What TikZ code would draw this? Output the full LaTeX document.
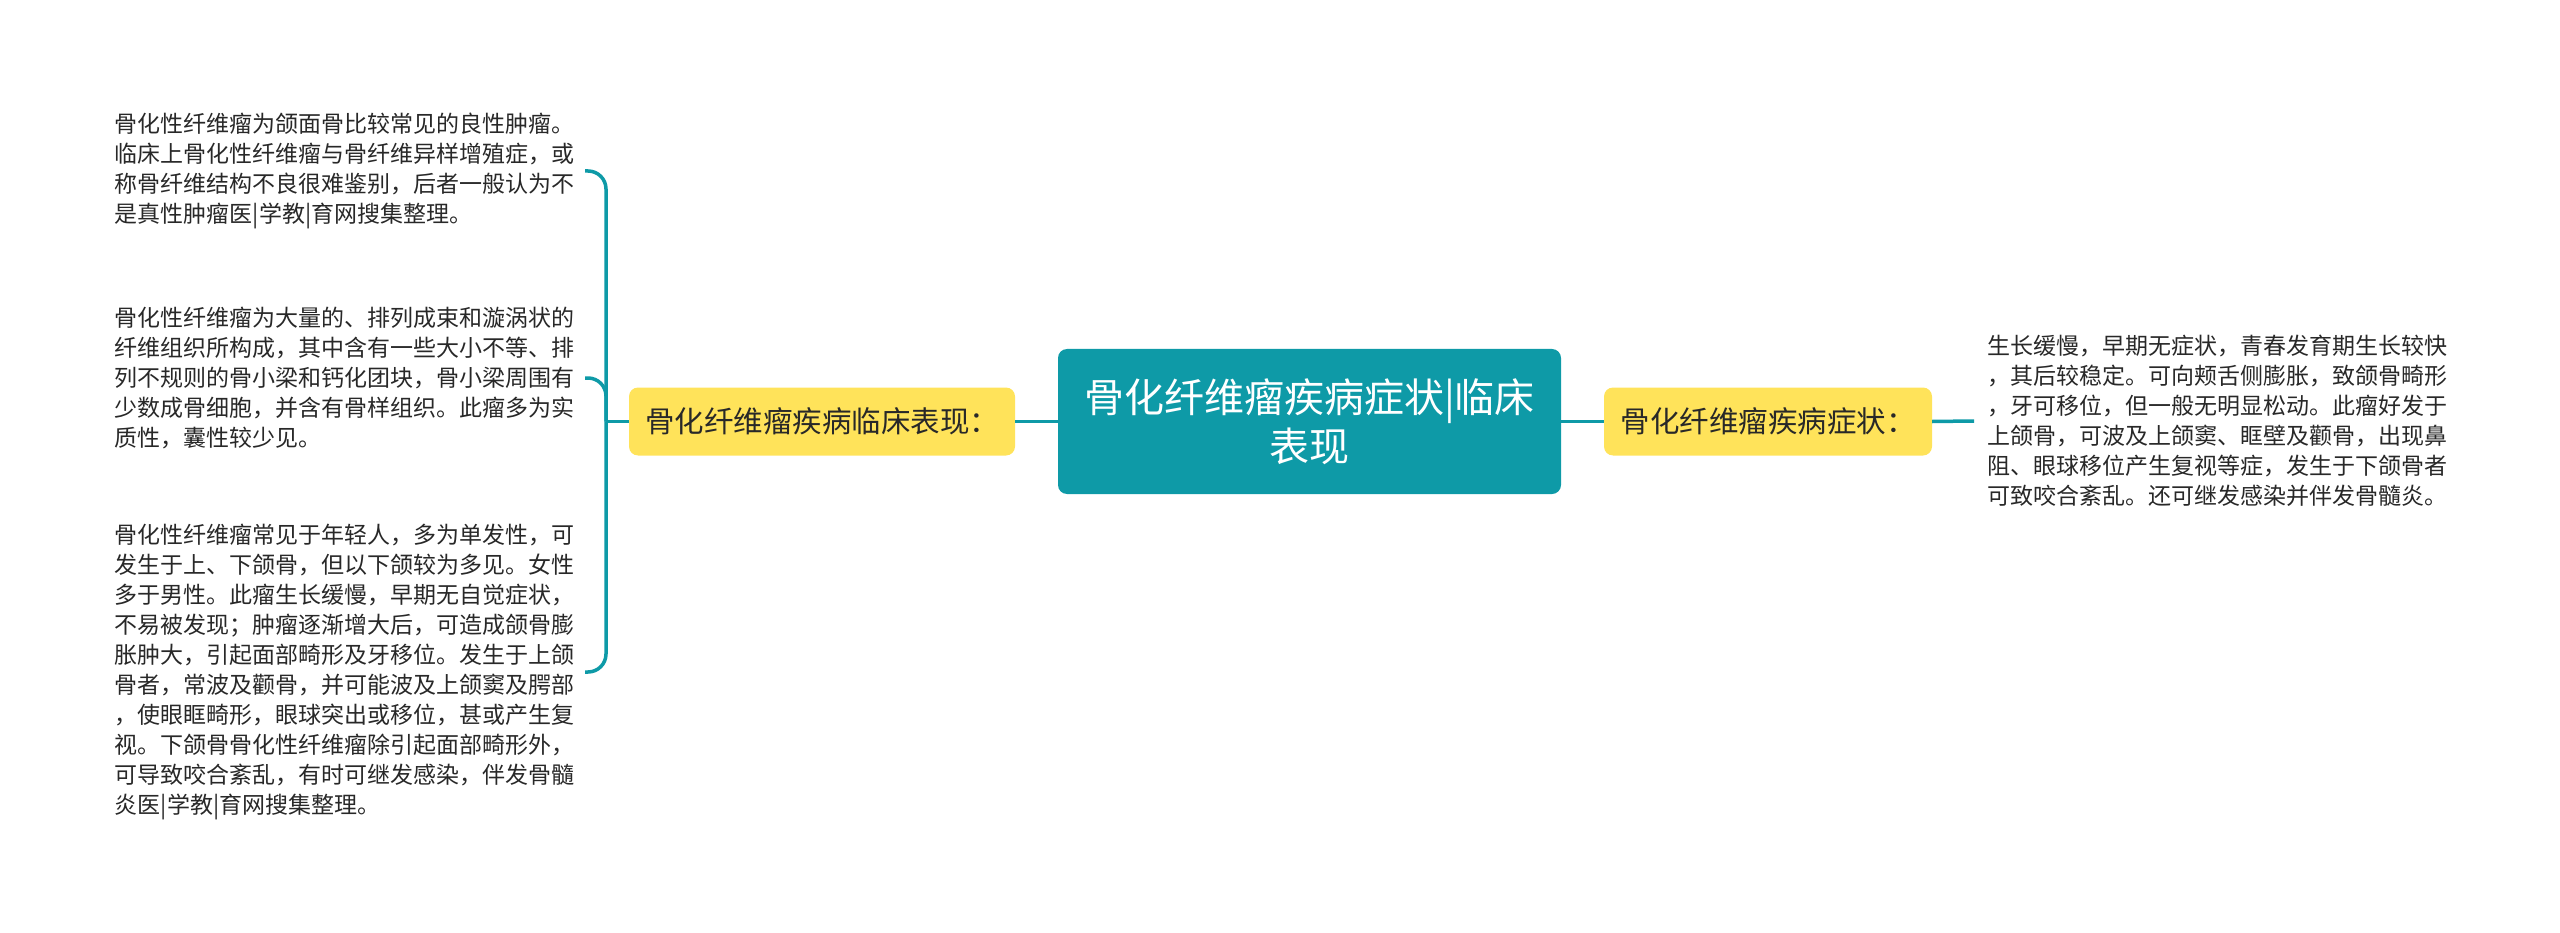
\documentclass[tikz,border=0pt]{standalone}
\usepackage{fontspec}
\newfontfamily\cjk{Noto Sans CJK SC}
\definecolor{teal1}{RGB}{14,154,167}
\definecolor{yel}{RGB}{255,227,90}
\definecolor{txt}{RGB}{40,40,40}
\begin{document}
\begin{tikzpicture}[x=1pt,y=-1pt,
  conn/.style={draw=teal1, line width=3.5pt},
  rootbox/.style={fill=teal1, rounded corners=9pt, minimum width=503pt, minimum height=145pt, text=white, font=\cjk\fontsize{40}{49}\selectfont, align=center, inner sep=0pt},
  subbox/.style={fill=yel, rounded corners=9pt, minimum height=68pt, text=txt, font=\cjk\fontsize{29.5}{34}\selectfont, inner sep=0pt},
  leaf/.style={text=txt, font=\cjk\fontsize{23}{30}\selectfont, align=left, text width=470pt, inner sep=0pt}]
\useasboundingbox (0,0) rectangle (2560,933);
\node[rootbox] (c) at (1309.5,421.5) {骨化纤维瘤疾病症状|临床\\表现};
\node[subbox, minimum width=386pt] (l) at (822,421.5) {骨化纤维瘤疾病临床表现：};
\node[subbox, minimum width=328pt] (r) at (1768,421.5) {骨化纤维瘤疾病症状：};
\node[leaf, anchor=west, inner xsep=13pt] (rt) at (1974,421) {生长缓慢，早期无症状，青春发育期生长较快\\，其后较稳定。可向颊舌侧膨胀，致颌骨畸形\\，牙可移位，但一般无明显松动。此瘤好发于\\上颌骨，可波及上颌窦、眶壁及颧骨，出现鼻\\阻、眼球移位产生复视等症，发生于下颌骨者\\可致咬合紊乱。还可继发感染并伴发骨髓炎。};
\node[leaf, anchor=east] (t1) at (585,171) {骨化性纤维瘤为颌面骨比较常见的良性肿瘤。\\临床上骨化性纤维瘤与骨纤维异样增殖症，或\\称骨纤维结构不良很难鉴别，后者一般认为不\\是真性肿瘤医|学教|育网搜集整理。};
\node[leaf, anchor=east] (t2) at (585,378) {骨化性纤维瘤为大量的、排列成束和漩涡状的\\纤维组织所构成，其中含有一些大小不等、排\\列不规则的骨小梁和钙化团块，骨小梁周围有\\少数成骨细胞，并含有骨样组织。此瘤多为实\\质性，囊性较少见。};
\node[leaf, anchor=east] (t3) at (585,672) {骨化性纤维瘤常见于年轻人，多为单发性，可\\发生于上、下颌骨，但以下颌较为多见。女性\\多于男性。此瘤生长缓慢，早期无自觉症状，\\不易被发现；肿瘤逐渐增大后，可造成颌骨膨\\胀肿大，引起面部畸形及牙移位。发生于上颌\\骨者，常波及颧骨，并可能波及上颌窦及腭部\\，使眼眶畸形，眼球突出或移位，甚或产生复\\视。下颌骨骨化性纤维瘤除引起面部畸形外，\\可导致咬合紊乱，有时可继发感染，伴发骨髓\\炎医|学教|育网搜集整理。};
\coordinate (j) at (606,421.5);
\draw[conn] (c.west) -- (l.east);
\draw[conn] (c.east) -- (r.west);
\draw[conn] (r.east) -- (rt.west);
\draw[conn] (j) -- (l.west);
\draw[conn, rounded corners=18pt] (t1.east) -| (j);
\draw[conn, rounded corners=18pt] (t2.east) -| (j);
\draw[conn, rounded corners=18pt] (t3.east) -| (j);
\end{tikzpicture}
\end{document}
